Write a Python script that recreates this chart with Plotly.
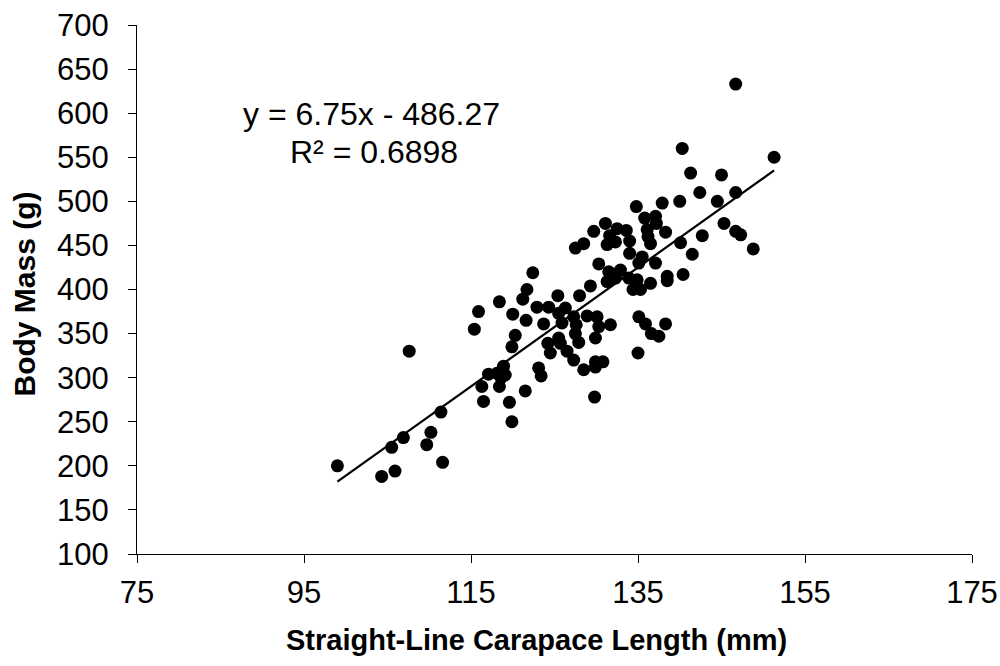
import plotly.graph_objects as go

# ---- data ----
carapace_length_mm = [
    99.0, 104.3, 105.9, 105.5, 106.9, 107.6, 109.7, 110.2, 111.4, 111.6,
    115.4, 115.9, 116.3, 116.5, 117.1, 118.1, 118.4, 118.9, 119.1, 119.6,
    119.9, 121.5, 123.1, 123.4, 118.4, 119.9, 120.3, 120.0, 121.2, 121.7,
    122.4, 121.6, 122.9, 123.7, 124.3, 124.2, 124.5, 125.4, 125.5, 125.5,
    125.7, 126.3, 126.5, 127.3, 118.6,
    127.5, 128.5, 129.7, 131.1, 132.5, 133.6, 131.6, 131.3, 132.3, 134.0,
    134.8, 135.8, 134.0, 135.5, 130.3, 131.5, 132.9, 135.1, 131.3, 132.3,
    133.9, 129.3, 128.0, 134.9, 134.4, 135.3, 135.1, 135.9, 136.6, 137.5,
    138.3, 135.0, 127.3, 128.9, 130.1, 127.6, 130.3, 131.7, 125.9, 127.5,
    127.9, 129.9, 128.5, 129.9, 129.9, 130.8, 129.8, 137.1, 137.2, 136.1,
    136.2, 136.5, 137.1, 136.5, 138.3, 137.9, 138.5, 138.5,
    146.7, 140.3, 151.3, 141.3, 145.0, 142.4, 146.7, 140.0, 144.5, 145.3,
    146.7, 147.3, 148.8, 142.7, 140.1, 141.5, 140.4,
]
body_mass_g = [
    200, 188, 194, 221, 232, 330, 224, 238, 261, 204,
    355, 375, 290, 273, 304, 305, 290, 313, 303, 272,
    250, 285, 311, 302, 386, 335, 348, 372, 389, 400,
    419, 365, 380, 361, 380, 339, 328, 393, 373, 345,
    339, 379, 330, 320, 300,
    447, 452, 466, 475, 469, 467, 461, 451, 454, 455,
    494, 481, 441, 437, 429, 420, 422, 430, 409, 413,
    413, 404, 393, 411, 400, 400, 369, 361, 350, 347,
    361, 328, 369, 370, 369, 360, 358, 360, 362, 350,
    340, 345, 309, 318, 312, 318, 278, 483, 475, 468,
    460, 452, 430, 407, 465, 498, 415, 410,
    633, 560, 550, 532, 530, 510, 510, 500, 500, 475,
    466, 462, 446, 461, 453, 440, 417,
]

trend_slope = 6.75
trend_intercept = -486.27
r_squared = 0.6898

x_tick_values = [75, 95, 115, 135, 155, 175]
y_tick_values = [100, 150, 200, 250, 300, 350, 400, 450, 500, 550, 600, 650, 700]

x_title = "Straight-Line Carapace Length (mm)"
y_title = "Body Mass (g)"
equation_text = "y = 6.75x - 486.27"
r2_text = "R\u00b2 = " + f"{r_squared:.4f}"

FONT = "Liberation Sans, Arial, Helvetica, sans-serif"

trend_x = [min(carapace_length_mm), max(carapace_length_mm)]
trend_y = [trend_slope * v + trend_intercept for v in trend_x]

fig = go.Figure()
fig.add_trace(go.Scatter(
    x=carapace_length_mm, y=body_mass_g, mode="markers",
    marker=dict(size=13, color="black", line=dict(width=0)),
    showlegend=False, hoverinfo="skip",
))
fig.add_trace(go.Scatter(
    x=trend_x, y=trend_y, mode="lines",
    line=dict(color="black", width=2.2),
    showlegend=False, hoverinfo="skip",
))

axis_common = dict(
    showline=True, linecolor="black", linewidth=1.3,
    ticks="outside", ticklen=8, tickwidth=1.3, tickcolor="black",
    showgrid=False, zeroline=False, automargin=False,
    tickfont=dict(family=FONT, size=31, color="black"),
)

fig.update_layout(
    width=1000, height=666,
    paper_bgcolor="white", plot_bgcolor="white",
    margin=dict(l=137, r=28, t=25, b=112),
    font=dict(family=FONT, color="black"),
    xaxis=dict(range=[75, 175], tickvals=x_tick_values,
               ticklabelstandoff=3, **axis_common),
    yaxis=dict(range=[100, 700], tickvals=y_tick_values,
               ticklabelstandoff=13, **axis_common),
    annotations=[
        dict(text=equation_text, x=103.1, y=599.0, xref="x", yref="y",
             showarrow=False, xanchor="center", yanchor="middle",
             font=dict(family=FONT, size=32, color="black")),
        dict(text=r2_text, x=103.4, y=556.0, xref="x", yref="y",
             showarrow=False, xanchor="center", yanchor="middle",
             font=dict(family=FONT, size=32, color="black")),
        dict(text="<b>" + x_title + "</b>", x=0.478, y=-0.163,
             xref="paper", yref="paper", showarrow=False,
             xanchor="center", yanchor="middle",
             font=dict(family=FONT, size=29, color="black")),
        dict(text="<b>" + y_title + "</b>", x=-0.135, y=0.491,
             xref="paper", yref="paper", showarrow=False, textangle=-90,
             xanchor="center", yanchor="middle",
             font=dict(family=FONT, size=30, color="black")),
    ],
)

fig.write_html("out.html", config={"displayModeBar": False},
               post_script="document.body.style.margin='0';")
